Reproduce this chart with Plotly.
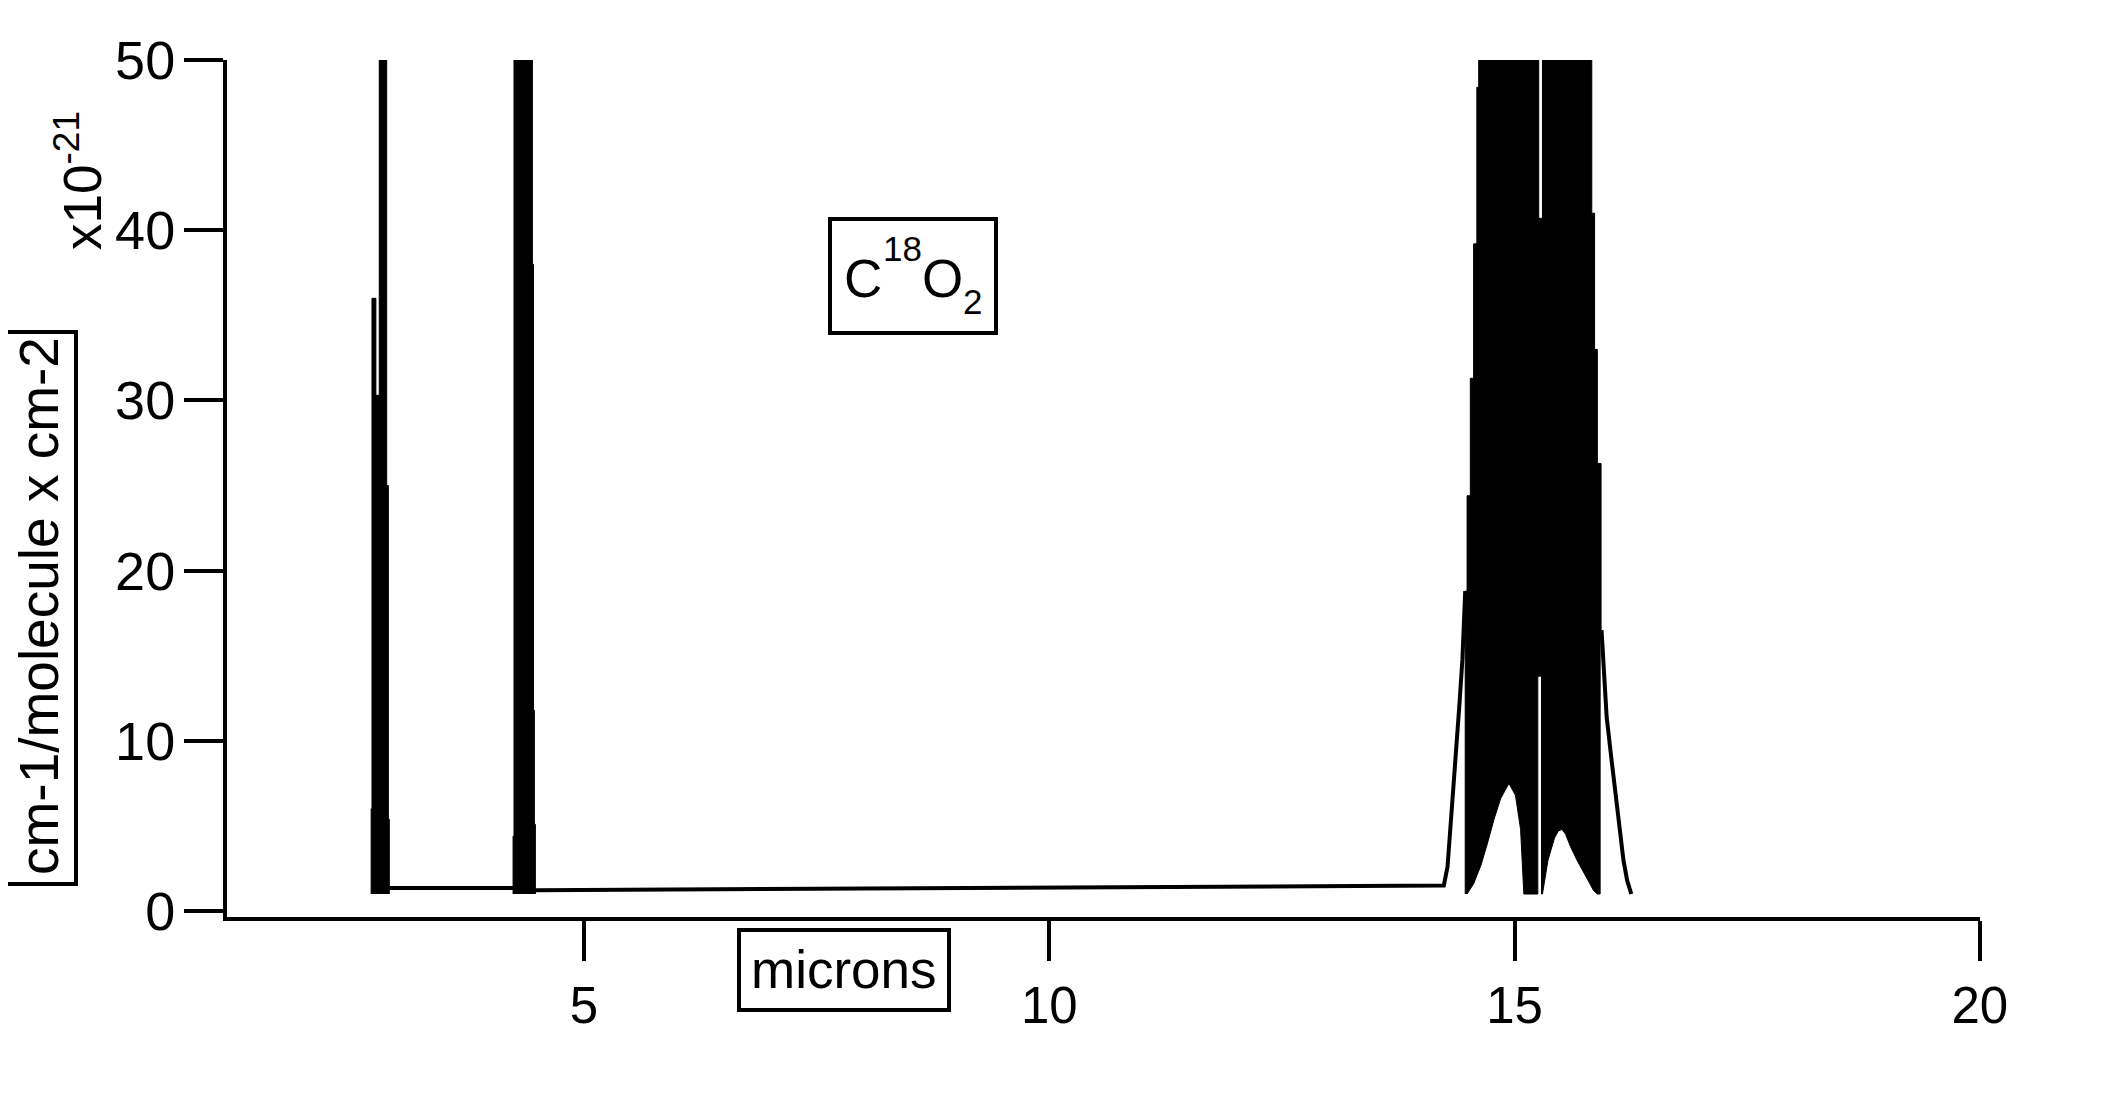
import plotly.graph_objects as go

# ---------------- data (wavelength in microns, intensity in 1e-21 units) ----------------
# baseline and left wing of the 15 micron band (single stroke)
base_wl = [2.908, 4.238, 4.478, 14.24, 14.28, 14.31, 14.35, 14.38, 14.41, 14.44, 14.47]
base_val = [1.35, 1.35, 1.22, 1.50, 2.6, 4.8, 7.4, 9.8, 12.3, 14.8, 18.8]

# right wing of the 15 micron band (single stroke)
tail_wl = [15.935, 15.96, 15.99, 16.04, 16.09, 16.13, 16.17, 16.21, 16.255]
tail_val = [16.5, 14.0, 11.4, 9.0, 6.5, 4.5, 3.0, 1.8, 1.0]

# 2.7 micron band outline (dense lines, values above 50 are off-scale)
a_wl = [2.713, 2.713, 2.722, 2.722, 2.764, 2.764, 2.800, 2.800, 2.880, 2.880, 2.898, 2.898, 2.908, 2.908]
a_val = [1.0, 6.0, 6.0, 36.0, 36.0, 30.3, 30.3, 60, 60, 25.0, 25.0, 5.4, 5.4, 1.0]

# 4.3 micron band outline
b_wl = [4.238, 4.238, 4.248, 4.248, 4.446, 4.446, 4.458, 4.458, 4.467, 4.467, 4.478, 4.478]
b_val = [1.0, 4.4, 4.4, 60, 60, 38.0, 38.0, 11.8, 11.8, 5.1, 5.1, 1.0]

# 15 micron band outline: upper envelope (left->right) then lower envelope (right->left)
c_up_wl = [14.47, 14.47, 14.49, 14.49, 14.525, 14.525, 14.56, 14.56, 14.595, 14.595, 14.615, 14.615,
           15.26, 15.26, 15.30, 15.30,
           15.83, 15.83, 15.86, 15.86, 15.89, 15.89, 15.93, 15.93, 15.92, 15.92]
c_up_val = [1.0, 18.8, 18.8, 24.4, 24.4, 31.3, 31.3, 39.2, 39.2, 48.4, 48.4, 60,
            60, 40.7, 40.7, 60,
            60, 41.0, 41.0, 33.0, 33.0, 26.3, 26.3, 16.5, 16.5, 1.0]
c_lo_wl = [15.89, 15.85, 15.80, 15.74, 15.67, 15.60, 15.55, 15.51, 15.47, 15.43, 15.39, 15.36, 15.33, 15.30,
           15.29, 15.29, 15.25, 15.25,
           15.10, 15.065, 15.01, 14.94, 14.85, 14.78, 14.71, 14.64, 14.56, 14.49]
c_lo_val = [1.0, 1.2, 1.7, 2.3, 3.0, 3.8, 4.5, 4.8, 4.7, 4.3, 3.6, 3.0, 2.0, 1.0,
            1.0, 13.8, 13.8, 1.0,
            1.0, 4.8, 6.8, 7.5, 6.6, 5.4, 4.0, 2.7, 1.6, 1.0]

x_ticks = [5, 10, 15, 20]
x_tick_labels = ["5", "10", "15", "20"]
y_ticks = [0, 10, 20, 30, 40, 50]
y_tick_labels = ["0", "10", "20", "30", "40", "50"]

# ---------------- layout geometry (screen pixels) ----------------
W, H = 2101, 1109
OFF = 8  # default body margin of the html page
L, R, T, B = 227, 1980, 60, 917
PW, PH = R - L, B - T


def px(x):
    return (x - L) / PW


def py(y):
    return (B - y) / PH


FONT = "Liberation Sans, Arial, sans-serif"

fig = go.Figure()

band_style = dict(mode="lines", fill="toself", fillcolor="black",
                  line=dict(color="black", width=1), hoverinfo="skip", showlegend=False)
fig.add_trace(go.Scatter(x=a_wl, y=a_val, **band_style))
fig.add_trace(go.Scatter(x=b_wl, y=b_val, **band_style))
fig.add_trace(go.Scatter(x=c_up_wl + c_lo_wl, y=c_up_val + c_lo_val, **band_style))

line_style = dict(mode="lines", line=dict(color="black", width=4), showlegend=False)
fig.add_trace(go.Scatter(x=base_wl, y=base_val, **line_style))
fig.add_trace(go.Scatter(x=tail_wl, y=tail_val, **line_style))

fig.update_layout(
    width=W - 2 * OFF, height=H - 2 * OFF,
    margin=dict(l=L - OFF, r=W - OFF - R, t=T - OFF, b=H - OFF - B, pad=0),
    paper_bgcolor="white", plot_bgcolor="white",
    font=dict(family=FONT, color="black"),
    showlegend=False,
)

fig.update_xaxes(
    range=[1.164, 20.002], showgrid=False, zeroline=False,
    showline=True, linecolor="black", linewidth=4,
    ticks="outside", ticklen=40, tickwidth=4, tickcolor="black",
    tickvals=x_ticks, ticktext=x_tick_labels,
    tickfont=dict(family=FONT, size=51, color="black"),
    ticklabelstandoff=1,
)
fig.update_yaxes(
    range=[-0.35, 50.002], showgrid=False, zeroline=False,
    showline=True, linecolor="black", linewidth=4,
    ticks="outside", ticklen=39, tickwidth=4, tickcolor="black",
    tickvals=y_ticks, ticktext=y_tick_labels,
    tickfont=dict(family=FONT, size=54, color="black"),
    ticklabelstandoff=-2,
)

shapes = []
annotations = []


def ann(text, x, y, size, xanchor="center", yanchor="middle", angle=0):
    annotations.append(dict(text=text, xref="paper", yref="paper",
                            x=px(x), y=py(y), xanchor=xanchor, yanchor=yanchor,
                            textangle=angle, showarrow=False,
                            font=dict(family=FONT, size=size, color="black")))


def box(x0, x1, y0, y1):
    shapes.append(dict(type="rect", xref="paper", yref="paper",
                       x0=px(x0), x1=px(x1), y0=py(y1), y1=py(y0),
                       line=dict(color="black", width=4), fillcolor="rgba(0,0,0,0)"))


# y-axis title box
box(2, 76, 332, 884)
ann("cm-1/molecule x cm-2", 39, 606, 55, angle=-90)
# exponent label
ann("x10<sup>-21</sup>", 79, 181, 53, angle=-90)
# x-axis title box
box(739, 949, 930, 1010)
ann("microns", 844, 970, 53)
# molecule label box, C 18 O 2
box(830, 996, 219, 333)
ann("C", 842, 278, 53, xanchor="left")
ann("18", 881, 249, 35, xanchor="left")
ann("O", 920, 278, 53, xanchor="left")
ann("2", 961, 301, 35, xanchor="left")

fig.update_layout(shapes=shapes, annotations=annotations)

fig.write_html("out.html")
